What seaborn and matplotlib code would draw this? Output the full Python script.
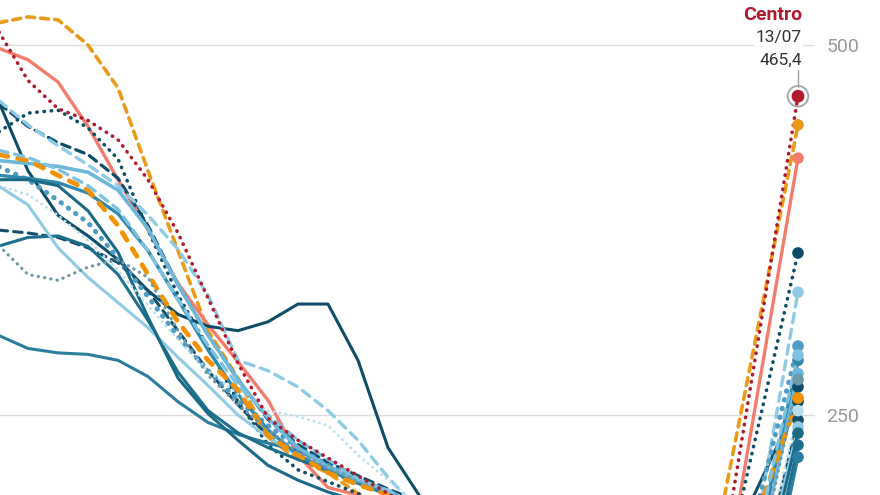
import matplotlib
matplotlib.use("Agg")
import matplotlib.pyplot as plt
import seaborn as sns
import pandas as pd

# incidence per district (days since start, value)
days = [0, 3, 6, 9, 12, 15, 18, 21, 24, 27, 30, 33, 36, 39, 42, 45]

centro = [510, 476, 457, 449, 436, 409, 373, 329, 285, 248, 233, 221, 209, 197, 186, 172]
arganzuela = [515, 519, 517, 500, 471, 415, 361, 307, 275, 235, 220, 211, 197, 188, 178, 165]
retiro = [498, 490, 475, 445, 409, 375, 339, 311, 286, 260, 223, 201, 196, 189, 179, 165]
salamanca = [441, 454, 456, 444, 423, 375, 331, 296, 259, 230, 213, 205, 197, 189, 179, 165]
chamartin = [463, 415, 385, 371, 355, 334, 318, 310, 307, 313, 325, 325, 287, 228, 197, 165]
tetuan = [461, 445, 434, 426, 410, 378, 338, 304, 274, 247, 230, 218, 209, 200, 192, 180]
chamberi = [375, 373, 370, 363, 353, 334, 307, 280, 257, 236, 223, 212, 204, 198, 189, 175]
fuencarral = [304, 295, 292, 291, 287, 276, 259, 245, 237, 231, 226, 216, 204, 196, 186, 172]
moncloa = [364, 370, 371, 364, 345, 314, 279, 253, 238, 228, 220, 213, 206, 199, 189, 175]
latina = [405, 392, 363, 343, 326, 309, 289, 270, 250, 235, 223, 213, 205, 198, 189, 175]
carabanchel = [463, 446, 432, 419, 405, 385, 362, 331, 287, 280, 269, 253, 233, 208, 186, 170]
usera = [418, 409, 395, 380, 356, 330, 303, 280, 260, 243, 228, 216, 206, 198, 189, 175]
vallecas = [412, 410, 407, 400, 386, 361, 328, 294, 264, 240, 223, 213, 204, 198, 189, 175]
moratalaz = [422, 420, 418, 414, 402, 376, 338, 304, 274, 248, 228, 215, 206, 199, 189, 175]
ciudad_lineal = [426, 422, 412, 402, 378, 345, 313, 287, 267, 236, 223, 211, 203, 196, 186, 172]
hortaleza = [409, 409, 405, 388, 360, 316, 275, 251, 233, 216, 206, 198, 192, 186, 179, 165]
villaverde = [405, 399, 385, 368, 348, 324, 301, 280, 264, 253, 249, 243, 223, 206, 189, 175]
vicalvaro = [365, 345, 341, 350, 355, 343, 307, 277, 257, 240, 225, 214, 206, 199, 189, 175]
san_blas = [429, 424, 416, 405, 389, 361, 328, 297, 270, 250, 233, 220, 207, 199, 189, 175]

# second wave: day it comes back at 180 and value on the last day (13/07)
rise_day = [73.1, 72.2, 73.8, 73.9, 74.5, 76.6, 77.6, 78.7, 78.4, 77.8,
            76.0, 75.6, 76.5, 76.9, 75.8, 78.0, 77.5, 77.0, 76.3]
rise_value = 180
last_day = 80
last_value = [465.4, 446, 423.6, 359.5, 259, 269, 246.6, 221.6, 229.7, 242,
              333, 296.6, 287, 278, 261.5, 237.8, 253, 274, 290.5]

series = [centro, arganzuela, retiro, salamanca, chamartin, tetuan, chamberi,
          fuencarral, moncloa, latina, carabanchel, usera, vallecas, moratalaz,
          ciudad_lineal, hortaleza, villaverde, vicalvaro, san_blas]

navy = "#0d4d68"
dots = (0, (0.1, 1.9))
styles = [
    ("#b01c2e", dots, 2.6),
    ("#eb9b1c", (0, (2.2, 1.7)), 2.6),
    ("#f47c6c", "-", 2.4),
    (navy, dots, 2.6),
    (navy, "-", 2.2),
    (navy, (0, (2.8, 1.9)), 2.3),
    ("#15506b", (0, (2.8, 2.0)), 2.2),
    ("#2b7d9e", "-", 2.2),
    ("#1d6f8d", "-", 2.2),
    ("#8fcbe4", "-", 2.2),
    ("#8fcbe4", (0, (2.8, 2.0)), 2.4),
    ("#4f9dc4", (0, (0.1, 1.7)), 3.6),
    ("#2f88ad", "-", 2.4),
    ("#6cb8da", "-", 2.6),
    ("#f39200", (0, (1.9, 2.1)), 3.4),
    ("#1a6a86", "-", 2.2),
    ("#b8dff0", (0, (0.1, 2.0)), 2.0),
    ("#6f98ab", (0, (0.1, 1.9)), 2.3),
    ("#7fc2df", (0, (2.8, 2.0)), 2.4),
]

sns.set_theme(style="white")
plt.rcParams["font.family"] = ["Roboto", "DejaVu Sans"]

fig = plt.figure(figsize=(8.8, 4.95), dpi=100)
ax = fig.add_axes([0, 0, 815 / 880, 1])

# draw background lines first, Centro last on top
order = list(range(1, len(series))) + [0]
for i in order:
    color, ls, lw = styles[i]
    df = pd.DataFrame({
        "day": days + [rise_day[i], last_day],
        "value": series[i] + [rise_value, last_value[i]],
    })
    sns.lineplot(data=df, x="day", y="value", ax=ax, color=color,
                 linestyle=ls, linewidth=lw, dash_capstyle="round",
                 solid_capstyle="round", solid_joinstyle="round",
                 zorder=2 + (i == 0))
    sns.scatterplot(x=[last_day], y=[last_value[i]], ax=ax, color=color,
                    s=70 if i else 85, edgecolor="none", zorder=4 + (i == 0))

# ring round the highlighted point and its label
ax.scatter([last_day], [last_value[0]], s=220, facecolor="none",
           edgecolor="#a0a0a0", linewidth=1.2, zorder=5)
ax.plot([last_day, last_day], [471.5, 483], color="#a0a0a0", lw=1, zorder=5)
ax.text(80.4, 520.5, "Centro", ha="right", va="center", fontsize=14,
        fontweight="bold", color="#b01c2e")
ax.text(80.4, 505.0, "13/07", ha="right", va="center", fontsize=12.5,
        color="#333333", bbox=dict(facecolor="white", edgecolor="none", pad=1))
ax.text(80.4, 489.5, "465,4", ha="right", va="center", fontsize=12.5,
        color="#333333", bbox=dict(facecolor="white", edgecolor="none", pad=1))

ax.set_xlim(0.2, 81.7)
ax.set_ylim(196, 530.4)
ax.set_yticks([250, 500])
ax.set_yticklabels(["250", "500"])
ax.yaxis.tick_right()
ax.tick_params(axis="y", length=0, pad=8, labelsize=14, labelcolor="#999999")
ax.set_xticks([])
ax.set_xlabel("")
ax.set_ylabel("")
ax.grid(axis="y", color="#dddddd", linewidth=1)
ax.set_axisbelow(True)
sns.despine(ax=ax, left=True, bottom=True, right=True, top=True)

fig.savefig("out.png", dpi=100)
